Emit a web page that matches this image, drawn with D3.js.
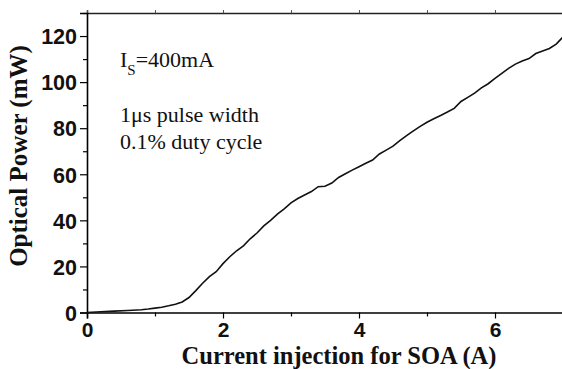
<!DOCTYPE html>
<html><head><meta charset="utf-8">
<script src="https://cdn.jsdelivr.net/npm/d3@7"></script>
<style>body{margin:0;background:#fff}svg{display:block}</style>
</head><body>
<svg id="c" width="562" height="369"></svg>
<script>
const currentA = [0,0.2,0.4,0.6,0.8,0.9,1.0,1.1,1.2,1.3,1.4,1.5,1.6,1.7,1.8,1.9,2.0,2.1,2.2,2.3,2.4,2.5,2.6,2.7,2.8,2.9,3.0,3.1,3.2,3.3,3.4,3.5,3.6,3.7,3.8,3.9,4.0,4.1,4.2,4.3,4.4,4.5,4.6,4.7,4.8,4.9,5.0,5.1,5.2,5.3,5.4,5.5,5.6,5.7,5.8,5.9,6.0,6.1,6.2,6.3,6.4,6.5,6.6,6.7,6.8,6.9,7.0];
const powerMW = [0,0.3,0.6,0.9,1.2,1.5,1.9,2.3,2.9,3.6,4.6,6.5,9.5,12.7,15.6,17.7,21.2,24.2,26.8,28.9,32.0,34.5,37.6,40.0,42.7,45.0,47.6,49.5,51.0,52.5,54.6,54.8,56.2,58.6,60.2,61.8,63.3,64.8,66.2,68.8,70.5,72.2,74.6,76.8,78.8,80.8,82.6,84.1,85.5,87.0,88.6,91.6,93.4,95.2,97.5,99.3,101.6,103.8,106.0,107.8,109.2,110.2,112.4,113.5,114.6,116.5,119.6];
const xTicks = [0,2,4,6];
const yTicks = [0,20,40,60,80,100,120];
const xMinor = [1,3,5,7];
const yMinor = [10,30,50,70,90,110,130];
const notes = ["1\u03bcs pulse width","0.1% duty cycle"];

const svg = d3.select("#c");
const L=87, R=563, T=13, B=312.5;
const x = d3.scaleLinear().domain([0,7]).range([L,R]);
const y = d3.scaleLinear().domain([0,130]).range([B,T]);
const sans = "'Liberation Sans', Arial, sans-serif";
const serif = "'Liberation Serif', 'Times New Roman', serif";

// top frame
const topAx = svg.append("g").attr("transform",`translate(0,${T})`)
  .call(d3.axisTop(x).tickValues(d3.range(0,8,1)).tickSize(3).tickFormat(""));
topAx.select(".domain").attr("stroke","#222").attr("stroke-width",1.5);
topAx.selectAll(".tick line").attr("stroke","#555");

// x axis
const xa = svg.append("g").attr("transform",`translate(0,${B})`)
  .call(d3.axisBottom(x).tickValues(xTicks).tickSize(6).tickPadding(4).tickFormat(d3.format("d")));
xa.append("g").call(d3.axisBottom(x).tickValues(xMinor).tickSize(4).tickFormat(""))
  .select(".domain").remove();
xa.selectAll(".domain").attr("stroke","#000").attr("stroke-width",1.6);
xa.selectAll(".tick line").attr("stroke","#000").attr("stroke-width",1.2);
xa.selectAll("text").attr("font-family",sans).attr("font-weight","bold").attr("font-size",21).attr("fill","#111");

// y axis
const ya = svg.append("g").attr("transform",`translate(${L},0)`)
  .call(d3.axisLeft(y).tickValues(yTicks).tickSize(7).tickPadding(3).tickFormat(d3.format("d")));
ya.append("g").call(d3.axisLeft(y).tickValues(yMinor).tickSize(4).tickFormat(""))
  .select(".domain").remove();
ya.selectAll(".domain").attr("stroke","#000").attr("stroke-width",1.6);
ya.selectAll(".tick line").attr("stroke","#000").attr("stroke-width",1.2);
ya.selectAll("text").attr("font-family",sans).attr("font-weight","bold").attr("font-size",21.5).attr("fill","#111").attr("dy","0.36em");

// curve
svg.append("path").datum(currentA.map((c,i)=>[c,powerMW[i]]))
  .attr("fill","none").attr("stroke","#111").attr("stroke-width",1.6)
  .attr("d", d3.line().x(d=>x(d[0])).y(d=>y(d[1])));

// titles
svg.append("text").attr("x",339).attr("y",364).attr("text-anchor","middle")
  .attr("font-family",serif).attr("font-weight","bold").attr("font-size",24.5).attr("fill","#111")
  .text("Current injection for SOA (A)");
svg.append("text").attr("transform","translate(27,156) rotate(-90)").attr("text-anchor","middle")
  .attr("font-family",serif).attr("font-weight","bold").attr("font-size",25).attr("fill","#111")
  .text("Optical Power (mW)");

// annotations
const a = svg.append("text").attr("x",120).attr("y",67).attr("font-family",serif).attr("font-size",22).attr("fill","#111");
a.append("tspan").text("I");
a.append("tspan").attr("font-size",15).attr("dy",8).text("S");
a.append("tspan").attr("dy",-8).text("=400mA");
notes.forEach((t,i)=>svg.append("text").attr("x",120).attr("y",122+i*26.5)
  .attr("font-family",serif).attr("font-size",22).attr("fill","#111").text(t));
</script>
</body></html>
